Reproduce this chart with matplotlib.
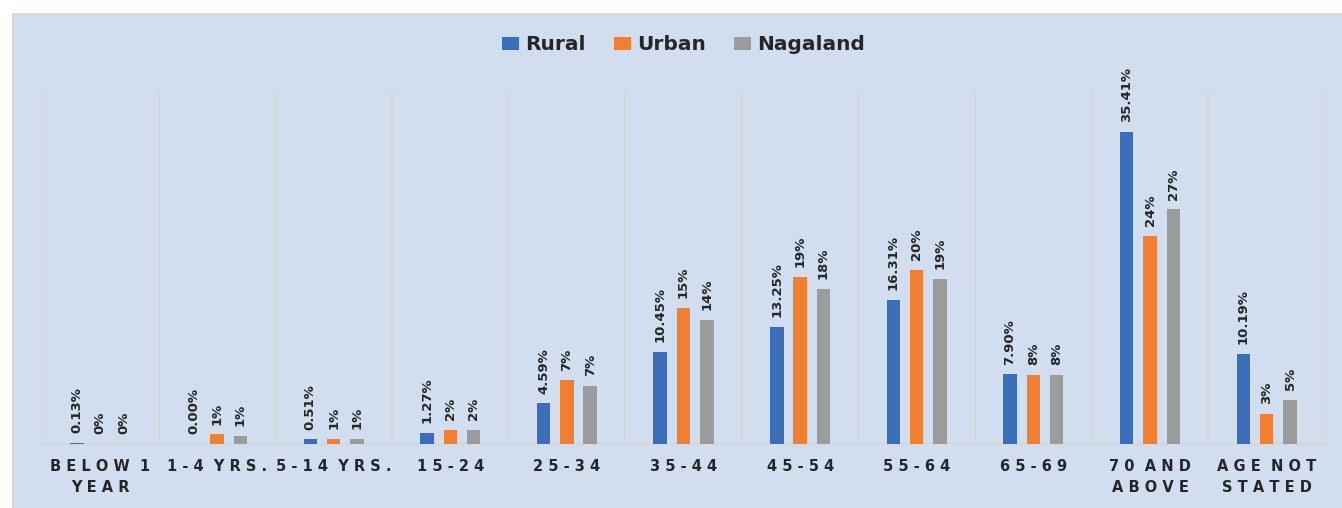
import matplotlib
matplotlib.use("Agg")
import matplotlib.pyplot as plt
from matplotlib.patches import Rectangle
import numpy as np

categories = ["BELOW 1\nYEAR", "1-4 YRS.", "5-14 YRS.", "15-24", "25-34", "35-44",
              "45-54", "55-64", "65-69", "70 AND\nABOVE", "AGE NOT\nSTATED"]
rural = [0.13, 0.00, 0.51, 1.27, 4.59, 10.45, 13.25, 16.31, 7.90, 35.41, 10.19]
urban = [0.0, 1.1, 0.6, 1.6, 7.2, 15.4, 18.9, 19.7, 7.8, 23.6, 3.4]
nagaland = [0.0, 0.9, 0.6, 1.6, 6.6, 14.1, 17.6, 18.7, 7.8, 26.6, 5.0]

series = [("Rural", rural, "#3A6EB8", "{:.2f}%"),
          ("Urban", urban, "#F27F30", "{:.0f}%"),
          ("Nagaland", nagaland, "#9B9D9D", "{:.0f}%")]

BG = "#D1DEEF"
GRID = "#D6D6D2"
W, H = 1342, 508

fig = plt.figure(figsize=(W / 100, H / 100), dpi=100)
fig.patch.set_facecolor("white")
fig.patches.append(Rectangle((13 / W, -0.01), 1.0, (H - 14) / H + 0.01,
                             transform=fig.transFigure, facecolor=BG,
                             edgecolor="#D5D5D5", linewidth=1.2, zorder=-5))

ax = fig.add_axes([42 / W, (H - 444) / H, (1325 - 42) / W, (444 - 91) / H])
ax.patch.set_alpha(0)

x = np.arange(len(categories))
offsets = [-0.2, 0.0, 0.2]
bw = 0.115
for (name, vals, col, fmt), off in zip(series, offsets):
    bars = ax.bar(x + off, vals, width=bw, color=col, label=name, zorder=3)
    for b, v in zip(bars, vals):
        ax.annotate(fmt.format(v), (b.get_x() + b.get_width() / 2, b.get_height()),
                    xytext=(0, 7), textcoords="offset points", rotation=90,
                    ha="center", va="bottom", fontsize=9.5, fontweight="bold",
                    color="#262626", annotation_clip=False)

for b in np.arange(len(categories) + 1) - 0.5:
    ax.axvline(b, color=GRID, linewidth=1.2, zorder=1)

ax.set_xlim(-0.5, len(categories) - 0.5)
ax.set_ylim(0, 40)
for s in ["top", "left", "right"]:
    ax.spines[s].set_visible(False)
ax.spines["bottom"].set_color(GRID)
ax.spines["bottom"].set_linewidth(1.2)
ax.set_yticks([])


def spaced(label):
    lines = []
    for line in label.split("\n"):
        lines.append("  ".join(" ".join(word) for word in line.split(" ")))
    return "\n".join(lines)


ax.set_xticks(x)
ax.set_xticklabels([spaced(c) for c in categories], fontsize=10.5,
                   fontweight="bold", color="#262626", linespacing=1.45)
ax.tick_params(axis="x", length=0, pad=11)

leg = ax.legend(loc="center", bbox_to_anchor=(0.5, 1 + 46 / 353),
                bbox_transform=ax.transAxes, ncol=3, frameon=False,
                prop={"size": 14.5, "weight": "bold"}, handlelength=0.85,
                handleheight=0.6, handletextpad=0.3, columnspacing=1.4)
for t in leg.get_texts():
    t.set_color("#262626")

fig.savefig("out.png", dpi=100, facecolor=fig.get_facecolor())
